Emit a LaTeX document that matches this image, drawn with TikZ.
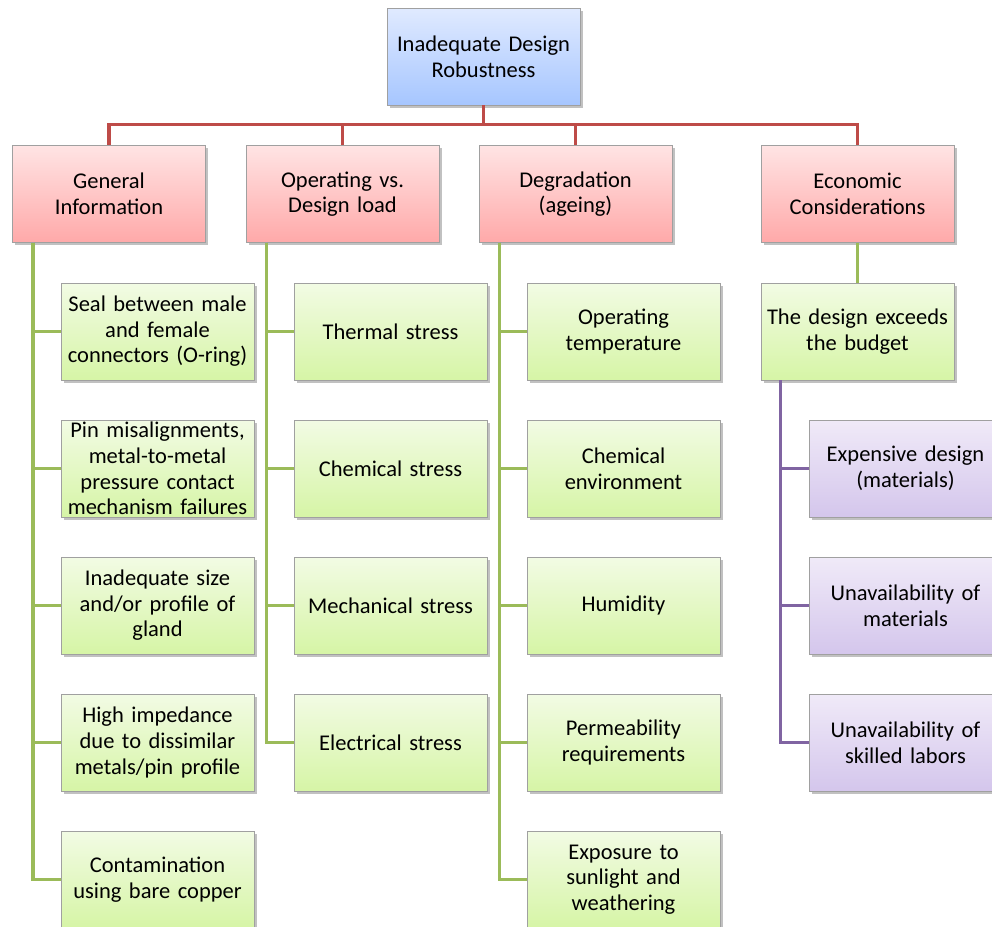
\documentclass[tikz,border=0pt]{standalone}
\usepackage{fontspec}
\setmainfont{Carlito}
\usetikzlibrary{shadows}
\definecolor{boxedge}{HTML}{A0A0A0}
\definecolor{redtop}{HTML}{FFE4E4}
\definecolor{redbot}{HTML}{FFA9A9}
\definecolor{bluetop}{HTML}{E0EAFF}
\definecolor{bluebot}{HTML}{A6C6FF}
\definecolor{greentop}{HTML}{F2FBE4}
\definecolor{greenbot}{HTML}{D6F5A6}
\definecolor{purptop}{HTML}{F0EAF8}
\definecolor{purpbot}{HTML}{D4C6EC}
\definecolor{redline}{HTML}{BE4B48}
\definecolor{greenline}{HTML}{9BBB59}
\definecolor{purpline}{HTML}{8064A2}
\tikzset{
  card/.style={draw=boxedge, line width=0.9pt, minimum width=193pt, minimum height=97pt,
    inner sep=0pt, align=center, text width=192pt, font=\fontsize{22.5pt}{25.6pt}\selectfont,
    drop shadow={shadow xshift=2.5pt, shadow yshift=-2.5pt, opacity=0.35, fill=black!70}},
  bluecard/.style={card, top color=bluetop, bottom color=bluebot},
  redcard/.style={card, top color=redtop, bottom color=redbot},
  greencard/.style={card, top color=greentop, bottom color=greenbot},
  purpcard/.style={card, top color=purptop, bottom color=purpbot},
  redwire/.style={draw=redline, line width=3.5pt},
  greenwire/.style={draw=greenline, line width=3.5pt},
  purpwire/.style={draw=purpline, line width=3.5pt},
}
\begin{document}
\begin{tikzpicture}[x=1pt, y=-1pt]
\useasboundingbox (0,0) rectangle (992,926);
\clip (0,0) rectangle (992,926);

% top of the tree
\node[bluecard] (root) at (483.5,56.5) {Inadequate Design\\Robustness};

% four categories
\node[redcard] (gen) at (109,194) {General\\Information};
\node[redcard] (opr) at (342.5,194) {Operating vs.\\Design load};
\node[redcard] (deg) at (575.5,194) {Degradation\\(ageing)};
\node[redcard] (eco) at (857.5,194) {Economic\\Considerations};

% general information
\node[greencard] (g1) at (157.5,331.5) {Seal between male\\and female\\connectors (O-ring)};
\node[greencard] (g2) at (157.5,468.5) {Pin misalignments,\\metal-to-metal\\pressure contact\\mechanism failures};
\node[greencard] (g3) at (157.5,605.5) {Inadequate size\\and/or profile of\\gland};
\node[greencard] (g4) at (157.5,742.5) {High impedance\\due to dissimilar\\metals/pin profile};
\node[greencard] (g5) at (157.5,879.5) {Contamination\\using bare copper};

% operating vs. design load
\node[greencard] (o1) at (390.5,331.5) {Thermal stress};
\node[greencard] (o2) at (390.5,468.5) {Chemical stress};
\node[greencard] (o3) at (390.5,605.5) {Mechanical stress};
\node[greencard] (o4) at (390.5,742.5) {Electrical stress};

% degradation
\node[greencard] (d1) at (623.5,331.5) {Operating\\temperature};
\node[greencard] (d2) at (623.5,468.5) {Chemical\\environment};
\node[greencard] (d3) at (623.5,605.5) {Humidity};
\node[greencard] (d4) at (623.5,742.5) {Permeability\\requirements};
\node[greencard] (d5) at (623.5,879.5) {Exposure to\\sunlight and\\weathering};

% economic considerations
\node[greencard] (e1) at (857.5,331.5) {The design exceeds\\the budget};
\node[purpcard] (p1) at (905.5,468.5) {Expensive design\\(materials)};
\node[purpcard] (p2) at (905.5,605.5) {Unavailability of\\materials};
\node[purpcard] (p3) at (905.5,742.5) {Unavailability of\\skilled labors};

% connectors
\begin{scope}[on background layer/.try]
\foreach \c in {gen,opr,deg,eco}
  \draw[redwire] (root.south) -- ++(0,19) -| (\c.north);
\foreach \c in {g1,g2,g3,g4,g5}
  \draw[greenwire] ([xshift=-76pt]gen.south) |- (\c.west);
\foreach \c in {o1,o2,o3,o4}
  \draw[greenwire] ([xshift=-76pt]opr.south) |- (\c.west);
\foreach \c in {d1,d2,d3,d4,d5}
  \draw[greenwire] ([xshift=-76pt]deg.south) |- (\c.west);
\draw[greenwire] (eco.south) -- (e1.north);
\foreach \c in {p1,p2,p3}
  \draw[purpwire] ([xshift=-77pt]e1.south) |- (\c.west);
\end{scope}
\end{tikzpicture}
\end{document}
